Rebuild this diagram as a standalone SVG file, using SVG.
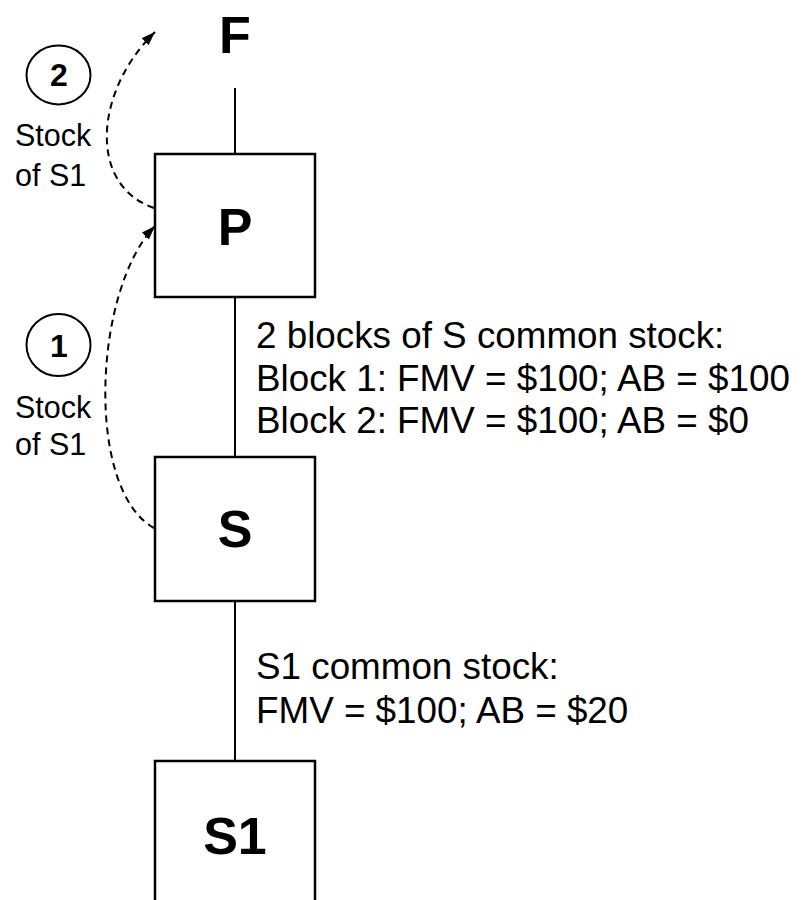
<svg xmlns="http://www.w3.org/2000/svg" width="802" height="900" viewBox="0 0 802 900">
<style>
.box{fill:#fff;stroke:#000;stroke-width:2.5}
.line{stroke:#000;stroke-width:2;fill:none}
.dash{stroke:#000;stroke-width:2;fill:none;stroke-dasharray:7 5}
.node{font-family:"Liberation Sans",Arial,sans-serif;font-weight:bold;font-size:52px;text-anchor:middle;fill:#000}
.lbl{font-family:"Liberation Sans",Arial,sans-serif;font-size:36.8px;fill:#000}
.small{font-family:"Liberation Sans",Arial,sans-serif;font-size:30.5px;fill:#000}
.num{font-family:"Liberation Sans",Arial,sans-serif;font-weight:bold;font-size:32px;text-anchor:middle;fill:#000}
.circ{fill:none;stroke:#000;stroke-width:2}
</style>
<defs>
<marker id="arr" viewBox="0 0 14 10" refX="14" refY="5" markerWidth="14" markerHeight="10" markerUnits="userSpaceOnUse" orient="auto">
<path d="M0,0 L14,5 L0,10 Z" fill="#000"/>
</marker>
</defs>
<rect width="802" height="900" fill="#fff"/>
<g id="connectors">
<line class="line" x1="235" y1="88" x2="235" y2="154"/>
<line class="line" x1="235" y1="297" x2="235" y2="457"/>
<line class="line" x1="235" y1="601" x2="235" y2="761"/>
<path class="dash" d="M154,208 C87,185 95,90 155,32" marker-end="url(#arr)"/>
<path class="dash" d="M154,528 C85,490 93,290 155,226" marker-end="url(#arr)"/>
</g>
<g id="node-F"><text class="node" x="235" y="53">F</text></g>
<g id="node-P"><rect class="box" x="155" y="154" width="160" height="143"/><text class="node" x="235" y="245">P</text></g>
<g id="node-S"><rect class="box" x="155" y="457" width="160" height="144"/><text class="node" x="235" y="547">S</text></g>
<g id="node-S1"><rect class="box" x="155" y="761" width="160" height="144"/><text class="node" x="235" y="854">S1</text></g>
<g id="step-2">
<ellipse class="circ" cx="58.5" cy="75" rx="32" ry="29.5"/>
<text class="num" x="59" y="86">2</text>
<text class="small" x="15" y="146">Stock</text>
<text class="small" x="15" y="186">of S1</text>
</g>
<g id="step-1">
<ellipse class="circ" cx="58.5" cy="345" rx="32" ry="31"/>
<text class="num" x="59" y="357">1</text>
<text class="small" x="15" y="418">Stock</text>
<text class="small" x="15" y="455">of S1</text>
</g>
<g id="label-PS">
<text class="lbl" x="256" y="348">2 blocks of S common stock:</text>
<text class="lbl" x="256" y="391">Block 1: FMV = $100; AB = $100</text>
<text class="lbl" x="256" y="433">Block 2: FMV = $100; AB = $0</text>
</g>
<g id="label-SS1">
<text class="lbl" x="256" y="679">S1 common stock:</text>
<text class="lbl" x="256" y="723">FMV = $100; AB = $20</text>
</g>
</svg>
